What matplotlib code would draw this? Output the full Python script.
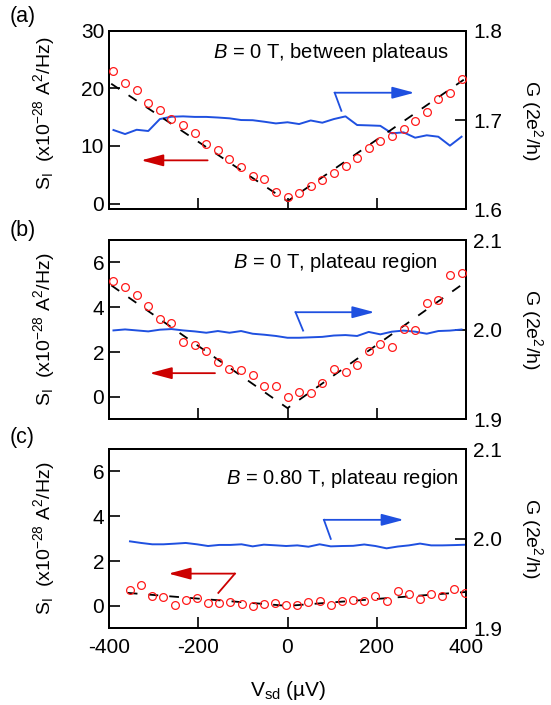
import matplotlib
matplotlib.use('Agg')
import matplotlib.pyplot as plt

plt.rcParams['font.family'] = ['Liberation Sans', 'DejaVu Sans']
plt.rcParams['mathtext.fontset'] = 'custom'
plt.rcParams['mathtext.rm'] = 'Liberation Sans'
plt.rcParams['mathtext.it'] = 'Liberation Sans:italic'
plt.rcParams['mathtext.bf'] = 'Liberation Sans:bold'
plt.rcParams['axes.unicode_minus'] = False
plt.rcParams['lines.scale_dashes'] = False

# ---------------- data ----------------
vsd_ab = [-390, -364, -338, -312, -286, -260, -234, -208, -182, -156, -130, -104, -78, -52, -26,
          0, 26, 52, 78, 104, 130, 156, 182, 208, 234, 260, 286, 312, 338, 364, 390]
s_a = [23.05, 20.98, 19.65, 17.40, 16.25, 14.64, 13.60, 12.33, 10.37, 9.28, 7.67, 6.28, 4.84, 4.32, 1.96,
       1.15, 1.84, 3.11, 4.15, 5.30, 6.45, 7.95, 9.57, 10.84, 11.76, 12.97, 14.40, 15.90, 18.20, 19.25, 21.70]
g_a = [1.6888, 1.6843, 1.6891, 1.6877, 1.7011, 1.7037, 1.7041, 1.7035, 1.7035, 1.7028, 1.7019, 1.7000,
       1.6998, 1.6981, 1.6962, 1.6975, 1.6955, 1.6995, 1.6970, 1.7011, 1.7041, 1.6944, 1.6940, 1.6935,
       1.6851, 1.6862, 1.6802, 1.6829, 1.6813, 1.6713, 1.6813]
s_b = [5.16, 4.90, 4.55, 4.07, 3.47, 3.31, 2.43, 2.31, 2.06, 1.56, 1.26, 1.21, 1.00, 0.47, 0.47,
       -0.01, 0.21, 0.16, 0.61, 1.24, 1.10, 1.43, 2.06, 2.37, 2.22, 3.03, 2.97, 4.20, 4.31, 5.46, 5.51]
g_b = [1.9992, 2.0003, 1.9992, 1.9981, 2.0000, 2.0007, 1.9992, 1.9981, 1.9966, 1.9985, 1.9966, 1.9985,
       1.9955, 1.9944, 1.9930, 1.9910, 1.9910, 1.9915, 1.9920, 1.9935, 1.9940, 1.9930, 1.9975, 1.9948,
       1.9978, 1.9990, 1.9978, 1.9955, 1.9985, 1.9990, 2.0002]
vsd_c = [-353, -328, -303, -278, -253, -228, -203, -178, -153, -128, -103, -78, -53, -28, -3,
         22, 47, 72, 97, 122, 147, 172, 197, 222, 247, 272, 297, 322, 347, 372, 397]
s_c = [0.73, 0.92, 0.45, 0.40, 0.06, 0.26, 0.37, 0.15, 0.15, 0.16, 0.10, -0.01, 0.09, 0.14, 0.06,
       0.02, 0.18, 0.21, 0.04, 0.24, 0.28, 0.20, 0.44, 0.22, 0.65, 0.51, 0.31, 0.55, 0.46, 0.76, 0.59]
g_c = [1.9970, 1.9952, 1.9937, 1.9937, 1.9944, 1.9952, 1.9937, 1.9918, 1.9930, 1.9930, 1.9937, 1.9914,
       1.9933, 1.9926, 1.9918, 1.9925, 1.9910, 1.9937, 1.9914, 1.9918, 1.9920, 1.9935, 1.9918, 1.9892,
       1.9912, 1.9925, 1.9945, 1.9925, 1.9925, 1.9928, 1.9932]

# dashed V-shaped guide lines
fit_x_a = [-395, 0, 395]
fit_y_a = [20.8, 0.4, 21.5]
fit_x_b = [-395, 0, 395]
fit_y_b = [4.98, -0.5, 5.07]
fit_x_c = [-358, 0, 400]
fit_y_c = [0.58, 0.0, 0.62]

labels_panel = ['(a)', '(b)', '(c)']
notes = ['$B$ = 0 T, between plateaus', '$B$ = 0 T, plateau region', '$B$ = 0.80 T, plateau region']
xticks = [-400, -200, 0, 200, 400]

# ---------------- styling ----------------
RED = '#ff1a1a'
DRED = '#cc0000'
BLUE = '#1f50e0'
FS_TICK = 15
FS_NOTE = 14.5
FS_LAB = 14

fig = plt.figure(figsize=(5.51, 7.05), dpi=100)
L, W = 109 / 551, 357 / 551
rects = [(L, 0.7031, W, 0.2533), (L, 0.4052, W, 0.2543), (L, 0.1088, W, 0.2543)]

panels = [
    dict(x=vsd_ab, s=s_a, g=g_a, fx=fit_x_a, fy=fit_y_a, ylim=(-1, 30), yt=[0, 10, 20, 30],
         glim=(1.6, 1.8), gt=[1.6, 1.7, 1.8], gl=['1.6', '1.7', '1.8'],
         red=((-179, 7.5), (-328, 7.5), None), blue=((120.7, 16.1), (105.7, 19.24), (284.5, 19.24)),
         note=(0.952, 0.877), ylab=0.535),
    dict(x=vsd_ab, s=s_b, g=g_b, fx=fit_x_b, fy=fit_y_b, ylim=(-1, 7), yt=[0, 2, 4, 6],
         glim=(1.9, 2.1), gt=[1.9, 2.0, 2.1], gl=['1.9', '2.0', '2.1'],
         red=((-162.5, 1.06), (-309, 1.06), None), blue=((35, 2.96), (18, 3.78), (195, 3.78)),
         note=(0.921, 0.873), ylab=0.5),
    dict(x=vsd_c, s=s_c, g=g_c, fx=fit_x_c, fy=fit_y_c, ylim=(-1, 7), yt=[0, 2, 4, 6],
         glim=(1.9, 2.1), gt=[1.9, 2.0, 2.1], gl=['1.9', '2.0', '2.1'],
         red=((-117.8, 1.44), (-266.8, 1.44), (-155, 0.58)), blue=((97, 2.99), (81.6, 3.84), (260.6, 3.84)),
         note=(0.980, 0.837), ylab=0.5),
]
label_y = [16.5, 231, 438]

for i, (p, r) in enumerate(zip(panels, rects)):
    ax = fig.add_axes(r)
    ax2 = ax.twinx()
    ax.set_zorder(ax2.get_zorder() + 1)
    ax.patch.set_visible(False)

    # dashed guide + data
    ax.plot(p['fx'], p['fy'], color='black', lw=1.3, dashes=(7, 8), zorder=2)
    ax.plot(p['x'], p['s'], 'o', ms=5.6, mfc='none', mec=RED, mew=0.9, zorder=3)
    ax2.plot(p['x'], p['g'], color=BLUE, lw=1.4)

    # arrows
    tail, tip, bend = p['red']
    if bend is not None:
        ax.plot([bend[0], tail[0]], [bend[1], tail[1]], color=DRED, lw=1.3)
    ax.annotate('', xy=tip, xytext=tail,
                arrowprops=dict(arrowstyle='-|>,head_length=0.9,head_width=0.24', mutation_scale=15,
                                color=DRED, lw=1.3, shrinkA=0, shrinkB=0))
    b0, b1, b2 = p['blue']
    ax.plot([b0[0], b1[0]], [b0[1], b1[1]], color=BLUE, lw=1.3)
    ax.annotate('', xy=b2, xytext=b1,
                arrowprops=dict(arrowstyle='-|>,head_length=0.9,head_width=0.24', mutation_scale=15,
                                color=BLUE, lw=1.3, shrinkA=0, shrinkB=0))

    ax.set_xlim(-400, 400)
    ax.set_ylim(*p['ylim'])
    ax.set_yticks(p['yt'])
    ax.set_xticks(xticks)
    ax2.set_ylim(*p['glim'])
    ax2.set_yticks(p['gt'])
    ax2.set_yticklabels(p['gl'])

    ax.tick_params(axis='y', direction='in', length=8, width=1.2, labelsize=FS_TICK, pad=3.5)
    ax.tick_params(axis='x', direction='in', length=8, width=1.2, labelsize=FS_TICK, pad=7)
    ax2.tick_params(axis='y', direction='in', length=8, width=1.2, labelsize=FS_TICK, pad=5)
    if i < 2:
        ax.tick_params(axis='x', labelbottom=False)
    for a in (ax, ax2):
        for sp in a.spines.values():
            sp.set_linewidth(1.4)

    ax.text(p['note'][0], p['note'][1], notes[i], transform=ax.transAxes, ha='right', va='center',
            fontsize=FS_NOTE)

    ymid_l = r[1] + r[3] * p['ylab']
    ymid = r[1] + r[3] / 2
    fig.text(44 / 551, ymid_l, 'S$_{\\rm I}$  (x10$^{-28}$ A$^{2}$/Hz)', rotation=90,
             ha='center', va='center', fontsize=FS_LAB)
    fig.text(532 / 551, ymid, 'G (2e$^{2}$/h)', rotation=270, ha='center', va='center', fontsize=FS_LAB)
    fig.text(10 / 551, 1 - label_y[i] / 705, labels_panel[i], ha='left', va='center', fontsize=15.5)

fig.text(288 / 551, 1 - 690 / 705, 'V$_{\\rm sd}$ (µV)', ha='center', va='center', fontsize=15)

fig.savefig('out.png', dpi=100)
